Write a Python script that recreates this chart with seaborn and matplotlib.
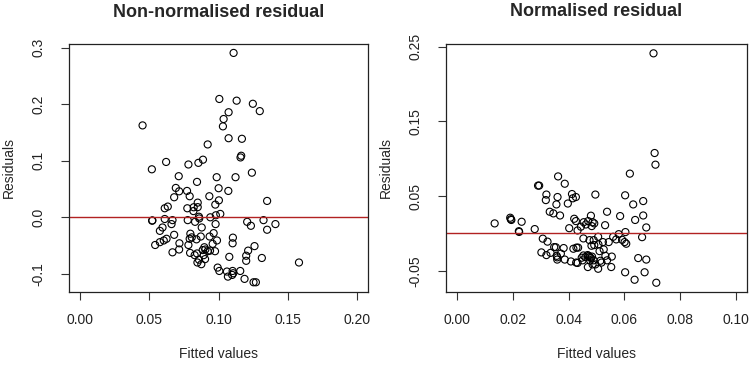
import pandas as pd
import matplotlib
matplotlib.use("Agg")
import matplotlib.pyplot as plt
import seaborn as sns

# -----------------------------
# Data (fitted value, residual)
# -----------------------------
raw_fitted = [0.1108, 0.0451, 0.1005, 0.1130, 0.1247, 0.1297, 0.1072, 0.1036, 0.1031, 0.1072,
              0.1168, 0.0921, 0.1163, 0.1158, 0.0887, 0.0854, 0.0782, 0.0621, 0.0518, 0.1240,
              0.0712, 0.0986, 0.1122, 0.0844, 0.0691, 0.1000, 0.0715, 0.0772, 0.1070, 0.0679,
              0.0791, 0.0933, 0.1002, 0.1350, 0.0849, 0.0976, 0.0633, 0.0611, 0.0774, 0.0820,
              0.0849, 0.0818, 0.1012, 0.0980, 0.0940, 0.0858, 0.0520, 0.0522, 0.0611, 0.0667,
              0.0660, 0.0777, 0.0830, 0.0860, 0.0978, 0.1206, 0.1233, 0.1324, 0.1410, 0.1350,
              0.0595, 0.0576, 0.0878, 0.0679, 0.0796, 0.0964, 0.0935, 0.0871, 0.1103, 0.0806,
              0.0840, 0.0624, 0.0791, 0.0988, 0.0604, 0.0576, 0.0542, 0.0717, 0.1101, 0.0957,
              0.0782, 0.1259, 0.0897, 0.0904, 0.0921, 0.0885, 0.0938, 0.0974, 0.0715, 0.1213,
              0.0667, 0.0794, 0.0844, 0.0827, 0.0892, 0.1199, 0.1077, 0.1312, 0.0902, 0.0858,
              0.1199, 0.0847, 0.1580, 0.0875, 0.0993, 0.1005, 0.1060, 0.1101, 0.1156, 0.1105,
              0.1067, 0.1098, 0.1187, 0.1252, 0.1269]
raw_resid = [0.291, 0.1627, 0.2095, 0.2065, 0.201, 0.188, 0.186, 0.174, 0.161, 0.140,
             0.139, 0.129, 0.109, 0.106, 0.102, 0.0964, 0.0935, 0.098, 0.085, 0.079,
             0.0728, 0.071, 0.071, 0.0627, 0.052, 0.0515, 0.046, 0.0467, 0.0467, 0.0355,
             0.0373, 0.0373, 0.030, 0.029, 0.026, 0.0225, 0.019, 0.016, 0.016, 0.0178,
             0.018, 0.011, 0.006, 0.0036, 0.0, 0.001, -0.006, -0.0055, -0.003, -0.005,
             -0.012, -0.005, -0.008, -0.002, -0.012, -0.008, -0.015, -0.005, -0.012, -0.022,
             -0.018, -0.024, -0.018, -0.031, -0.029, -0.028, -0.034, -0.034, -0.036, -0.0355,
             -0.039, -0.038, -0.038, -0.041, -0.041, -0.044, -0.049, -0.046, -0.046, -0.047,
             -0.049, -0.051, -0.053, -0.057, -0.060, -0.058, -0.059, -0.060, -0.057, -0.059,
             -0.062, -0.063, -0.064, -0.067, -0.067, -0.068, -0.070, -0.072, -0.074, -0.075,
             -0.077, -0.080, -0.080, -0.083, -0.089, -0.095, -0.096, -0.095, -0.095, -0.099,
             -0.105, -0.102, -0.109, -0.115, -0.115]

norm_fitted = [0.0705, 0.0709, 0.0712, 0.0620, 0.0362, 0.0386, 0.0290, 0.0294, 0.0320, 0.0412,
               0.0426, 0.0415, 0.0360, 0.0496, 0.0603, 0.0318, 0.0668, 0.0356, 0.0397, 0.0632,
               0.0332, 0.0345, 0.0369, 0.0538, 0.0585, 0.0668, 0.0134, 0.0190, 0.0192, 0.0194,
               0.0231, 0.0420, 0.0426, 0.0480, 0.0470, 0.0486, 0.0492, 0.0454, 0.0462, 0.0444,
               0.0483, 0.0531, 0.0639, 0.0679, 0.0402, 0.0432, 0.0278, 0.0221, 0.0222, 0.0604,
               0.0580, 0.0506, 0.0664, 0.0307, 0.0324, 0.0453, 0.0490, 0.0523, 0.0560, 0.0571,
               0.0592, 0.0601, 0.0607, 0.0544, 0.0475, 0.0348, 0.0354, 0.0382, 0.0417, 0.0428,
               0.0434, 0.0482, 0.0492, 0.0507, 0.0526, 0.0511, 0.0302, 0.0320, 0.0335, 0.0357,
               0.0359, 0.0359, 0.0372, 0.0386, 0.0408, 0.0427, 0.0432, 0.0453, 0.0460, 0.0468,
               0.0472, 0.0476, 0.0480, 0.0484, 0.0477, 0.0490, 0.0469, 0.0486, 0.0496, 0.0506,
               0.0514, 0.0518, 0.0532, 0.0538, 0.0555, 0.0553, 0.0650, 0.0679, 0.0603, 0.0673,
               0.0637, 0.0715, 0.0447, 0.0450]
norm_resid = [0.241, 0.1076, 0.092, 0.080, 0.0763, 0.0665, 0.064, 0.064, 0.052, 0.0527,
              0.0487, 0.047, 0.0487, 0.052, 0.051, 0.0446, 0.0433, 0.0388, 0.040, 0.0388,
              0.029, 0.0268, 0.024, 0.029, 0.0232, 0.024, 0.0134, 0.021, 0.019, 0.018,
              0.0156, 0.0196, 0.0165, 0.0237, 0.0165, 0.015, 0.0134, 0.015, 0.012, 0.009,
              0.0098, 0.011, 0.018, 0.008, 0.007, 0.004, 0.0058, 0.003, 0.002, 0.0018,
              -0.001, -0.0045, -0.005, -0.007, -0.011, -0.0067, -0.009, -0.0116, -0.0045, -0.008,
              -0.0085, -0.0116, -0.0138, -0.0116, -0.009, -0.0183, -0.0185, -0.0196, -0.0205, -0.019,
              -0.019, -0.0165, -0.0156, -0.0147, -0.0214, -0.0237, -0.0254, -0.029, -0.026, -0.030,
              -0.032, -0.035, -0.027, -0.035, -0.0375, -0.039, -0.0395, -0.0295, -0.0317, -0.029,
              -0.030, -0.0315, -0.033, -0.031, -0.036, -0.036, -0.045, -0.0415, -0.0415, -0.0473,
              -0.0366, -0.039, -0.030, -0.036, -0.031, -0.045, -0.033, -0.035, -0.052, -0.052,
              -0.062, -0.066, -0.0325, -0.036]

raw_xticks = [0.00, 0.05, 0.10, 0.15, 0.20]
raw_yticks = [-0.1, 0.0, 0.1, 0.2, 0.3]
norm_xticks = [0.00, 0.02, 0.04, 0.06, 0.08, 0.10]
norm_yticks = [-0.05, 0.05, 0.15, 0.25]

df_raw = pd.DataFrame({"fitted": raw_fitted, "resid": raw_resid})
df_norm = pd.DataFrame({"fitted": norm_fitted, "resid": norm_resid})

sns.set_style("ticks")
plt.rcParams["font.family"] = ["Liberation Sans", "DejaVu Sans"]

fig = plt.figure(figsize=(7.5, 3.66), dpi=100)
ax1 = fig.add_axes([0.092, 0.203, 0.399, 0.676])
ax2 = fig.add_axes([0.595, 0.203, 0.4006, 0.677])

panels = [
    (ax1, df_raw, "Non-normalised residual", raw_xticks, raw_yticks,
     (-0.008, 0.208), (-0.1317, 0.3063), ["0.00", "0.05", "0.10", "0.15", "0.20"],
     ["-0.1", "0.0", "0.1", "0.2", "0.3"]),
    (ax2, df_norm, "Normalised residual", norm_xticks, norm_yticks,
     (-0.004, 0.104), (-0.078, 0.2536), ["0.00", "0.02", "0.04", "0.06", "0.08", "0.10"],
     ["-0.05", "0.05", "0.15", "0.25"]),
]

for ax, d, title, xt, yt, xlim, ylim, xtl, ytl in panels:
    sns.scatterplot(x="fitted", y="resid", data=d, ax=ax, marker="o", s=26,
                    facecolors="none", edgecolor="black", linewidth=0.8)
    ax.axhline(0, color="#b22222", lw=1.0, zorder=1)
    ax.set_xlim(*xlim)
    ax.set_ylim(*ylim)
    ax.set_xticks(xt)
    ax.set_xticklabels(xtl)
    ax.set_yticks(yt)
    ax.set_yticklabels(ytl, rotation=90, va="center")
    ax.tick_params(axis="both", length=6, width=0.8, color="#333333",
                   labelsize=10, labelcolor="#222222")
    ax.tick_params(axis="x", pad=9)
    ax.tick_params(axis="y", pad=11)
    for sp in ax.spines.values():
        sp.set_visible(True)
        sp.set_linewidth(0.9)
        sp.set_color("#222222")
    ax.set_title(title, fontsize=13, fontweight="bold", pad=20)
    ax.set_xlabel("Fitted values", fontsize=10, labelpad=15)
    ax.set_ylabel("Residuals", fontsize=10, labelpad=11)

plt.savefig("out.png", dpi=100)
